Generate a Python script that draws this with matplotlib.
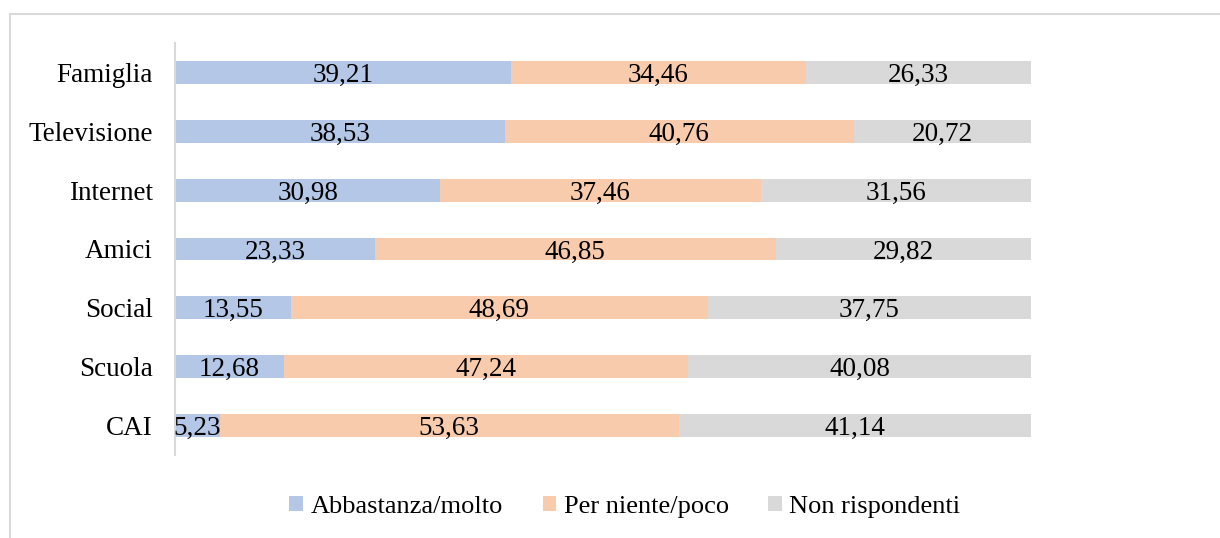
import matplotlib.pyplot as plt
from matplotlib.lines import Line2D

# Fonti di informazione e risposte (%)
fonti = ["Famiglia", "Televisione", "Internet", "Amici", "Social", "Scuola", "CAI"]
abbastanza_molto = [39.21, 38.53, 30.98, 23.33, 13.55, 12.68, 5.23]
per_niente_poco = [34.46, 40.76, 37.46, 46.85, 48.69, 47.24, 53.63]
non_rispondenti = [26.33, 20.72, 31.56, 29.82, 37.75, 40.08, 41.14]

serie = [
    ("Abbastanza/molto", abbastanza_molto, "#b4c7e7"),
    ("Per niente/poco", per_niente_poco, "#f8cbad"),
    ("Non rispondenti", non_rispondenti, "#d9d9d9"),
]

plt.rcParams["font.family"] = ["Liberation Serif", "DejaVu Serif"]
fs = 19.5

fig = plt.figure(figsize=(12.2, 5.38), dpi=100)
ax = fig.add_axes([175 / 1220, 1 - 455 / 538, 856 / 1220, 412 / 538])

pos = list(range(len(fonti)))
sinistra = [0.0] * len(fonti)
for nome, valori, colore in serie:
    ax.barh(pos, valori, left=sinistra, height=0.39, color=colore, label=nome)
    for i, v in enumerate(valori):
        ax.text(sinistra[i] + v / 2, i, f"{v:.2f}".replace(".", ","),
                ha="center", va="center_baseline", fontsize=fs, color="black")
    sinistra = [s + v for s, v in zip(sinistra, valori)]

ax.set_xlim(0, 100)
ax.set_ylim(len(fonti) - 0.5, -0.5)
ax.set_yticks(pos)
ax.set_yticklabels(fonti, fontsize=fs)
ax.tick_params(axis="y", length=0, pad=16)
ax.set_xticks([])
for lato in ["top", "right", "bottom"]:
    ax.spines[lato].set_visible(False)
ax.spines["left"].set_color("#d9d9d9")
ax.spines["left"].set_linewidth(1.5)

fig.legend(loc="center", bbox_to_anchor=(0.5123, 1 - 507 / 538), ncol=3,
           frameon=False, fontsize=19, handlelength=0.53, handleheight=0.53,
           handletextpad=0.27, columnspacing=1.5)

# cornice del grafico
x0 = 10 / 1220
y0 = 1 - 14 / 538
fig.add_artist(Line2D([x0, 1.0], [y0, y0], color="#d9d9d9", linewidth=1.5))
fig.add_artist(Line2D([x0, x0], [0.0, y0], color="#d9d9d9", linewidth=1.5))

fig.savefig("out.png", dpi=100)
